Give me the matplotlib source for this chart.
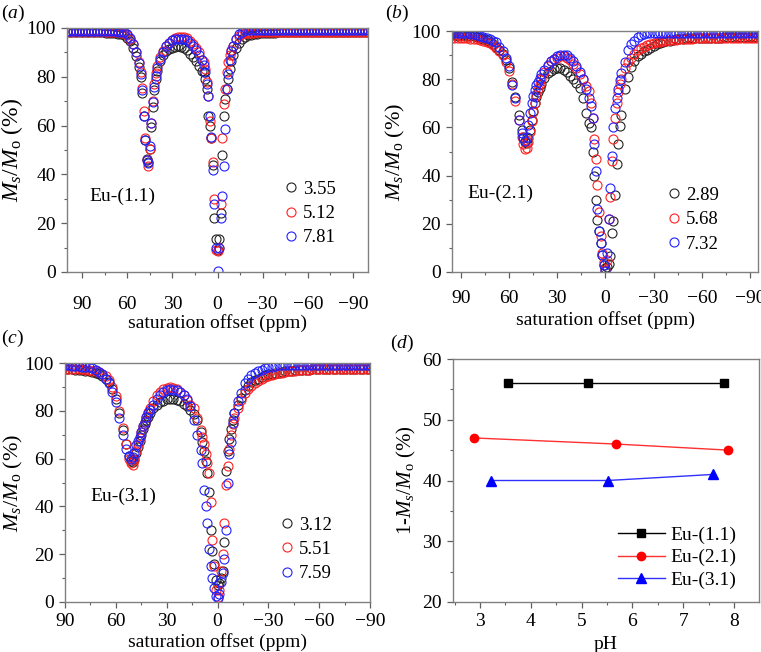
import matplotlib
matplotlib.use("Agg")
import matplotlib.pyplot as plt
from matplotlib.ticker import MultipleLocator

plt.rcParams['font.family'] = ['Liberation Serif', 'DejaVu Serif']
plt.rcParams['mathtext.fontset'] = 'custom'
plt.rcParams['mathtext.rm'] = 'Liberation Serif'
plt.rcParams['mathtext.it'] = 'Liberation Serif:italic'
plt.rcParams['font.size'] = 13.5

# ---------------- data ----------------
offset_ppm = [100, 98, 96, 94, 92, 90, 88, 86, 84, 82, 80, 78, 76, 74, 72, 70, 68, 66, 64,
              62, 60, 58, 56, 54, 52,
              51, 50, 49, 48, 47, 46, 45, 44, 43, 42, 41, 40,
              38, 36, 34, 32, 30, 28, 26, 24, 22, 20, 18, 16, 14, 12, 10,
              9, 8, 7, 6, 5, 4, 3, 2, 1, 0, -1, -2, -3, -4, -5, -6, -7, -8, -9, -10,
              -12, -14, -16, -18, -20,
              -22, -24, -26, -28, -30, -32, -34, -36, -38, -40,
              -42, -44, -46, -48, -50, -52, -54, -56, -58, -60,
              -62, -64, -66, -68, -70, -72, -74, -76, -78, -80,
              -82, -84, -86, -88, -90, -92, -94, -96, -98, -100]

# panel (a) Eu-(1.1)
a_labels = ['3.55', '5.12', '7.81']
a_black = [98.3, 98.2, 98.4, 98.3, 98.2, 98.3, 98.4, 98.2, 98.3, 98.2,
           98.3, 98.2, 98.3, 98.1, 98.0, 97.9, 97.8, 97.7, 97.6,
           97.0, 96.0, 94.5, 92.0, 88.5, 84.0,
           80.0, 73.5, 64.0, 54.0, 46.5, 45.0, 50.5, 59.5, 67.5, 74.5, 79.0, 82.5,
           86.5, 89.0, 90.5, 91.5, 92.0, 92.3, 92.5, 92.4, 92.0, 91.0, 89.5, 88.0, 86.5, 84.5, 82.5,
           82.0, 79.0, 75.0, 64.0, 60.0, 55.0, 44.0, 22.0, 13.5, 9.0,
           13.5, 24.0, 48.0, 64.0, 71.0, 75.0, 79.0, 83.0, 86.5, 89.0,
           92.0, 94.0, 95.5, 96.5, 97.0,
           97.2, 97.5, 97.7, 97.8, 97.9, 98.0, 98.0, 98.1, 98.1, 98.2,
           98.2, 98.2, 98.3, 98.2, 98.3, 98.3, 98.3, 98.4, 98.3, 98.4,
           98.3, 98.4, 98.4, 98.3, 98.4, 98.4, 98.3, 98.4, 98.4, 98.4,
           98.3, 98.4, 98.4, 98.3, 98.4, 98.4, 98.3, 98.4, 98.4, 98.4]
a_red = [98.6, 98.5, 98.6, 98.5, 98.6, 98.5, 98.6, 98.5, 98.6, 98.5,
         98.6, 98.5, 98.6, 98.5, 98.4, 98.4, 98.3, 98.2, 98.1,
         97.8, 97.0, 95.5, 93.5, 90.0, 86.0,
         82.0, 75.5, 66.0, 55.0, 46.0, 43.5, 50.5, 61.0, 70.0, 77.0, 81.5, 84.5,
         88.0, 90.5, 92.5, 94.0, 95.0, 95.8, 96.2, 96.3, 96.2, 95.8, 94.8, 93.5, 92.0, 90.0, 87.0,
         86.0, 83.0, 78.0, 72.0, 62.0, 55.0, 45.0, 30.0, 9.0, 8.5,
         10.0, 28.0, 55.0, 69.0, 75.0, 82.0, 86.0, 89.0, 91.0, 92.5,
         95.5, 96.8, 97.5, 97.8, 98.0,
         98.0, 98.1, 98.2, 98.2, 98.2, 98.3, 98.3, 98.3, 98.4, 98.3,
         98.4, 98.3, 98.4, 98.4, 98.3, 98.4, 98.4, 98.3, 98.4, 98.4,
         98.3, 98.4, 98.4, 98.3, 98.4, 98.4, 98.3, 98.4, 98.4, 98.3,
         98.4, 98.4, 98.3, 98.4, 98.4, 98.3, 98.4, 98.4, 98.3, 98.4]
a_blue = [98.8, 98.9, 98.8, 98.9, 98.8, 98.9, 98.8, 98.9, 98.8, 98.9,
          98.8, 98.9, 98.8, 98.8, 98.7, 98.7, 98.6, 98.5, 98.4,
          98.2, 97.5, 96.0, 93.5, 90.0, 85.5,
          81.0, 74.5, 64.0, 54.0, 46.0, 44.8, 51.5, 61.0, 69.5, 76.0, 80.5, 83.5,
          87.5, 90.0, 92.5, 94.0, 95.0, 95.5, 95.5, 95.5, 95.3, 95.0, 94.0, 92.5, 91.0, 89.0, 87.0,
          85.0, 82.0, 77.0, 72.0, 64.0, 55.5, 42.0, 28.0, 10.0, 0.5,
          10.0, 22.0, 31.0, 43.5, 58.5, 75.0, 81.0, 87.0, 90.5, 92.5,
          95.5, 97.5, 98.5, 99.0, 99.0,
          99.0, 99.1, 99.0, 99.1, 99.0, 99.1, 99.0, 99.1, 99.0, 99.1,
          99.0, 99.1, 99.0, 99.1, 99.0, 99.1, 99.0, 99.1, 99.0, 99.1,
          99.0, 99.1, 99.0, 99.1, 99.0, 99.1, 99.0, 99.1, 99.0, 99.1,
          99.0, 99.1, 99.0, 99.1, 99.0, 99.1, 99.0, 99.1, 99.0, 99.1]

# panel (b) Eu-(2.1)
b_labels = ['2.89', '5.68', '7.32']
b_black = [98.0, 98.2, 98.3, 98.2, 98.1, 98.3, 98.2, 98.1, 98.0, 97.9,
           97.6, 97.3, 96.8, 96.2, 95.5, 94.6, 93.5, 92.0, 90.5,
           88.0, 84.5, 79.0, 72.5, 65.0, 59.0,
           56.0, 54.0, 53.5, 55.5, 59.0, 63.0, 67.0, 70.0, 72.5, 74.5, 76.5, 78.0,
           80.5, 82.5, 83.5, 84.3, 84.5, 84.5, 84.0, 83.0, 81.5, 80.0, 78.5, 76.5, 72.0, 66.0, 62.0,
           60.0, 50.0, 40.0, 30.0, 21.5, 17.0, 12.0, 7.0, 3.0, 1.5,
           2.0, 3.5, 6.5, 16.0, 21.0, 32.0, 45.0, 53.0, 60.5, 65.0,
           76.0, 81.0, 85.0, 87.5, 89.5,
           90.5, 91.5, 92.3, 93.0, 93.8, 94.5, 95.0, 95.5, 95.8, 96.0,
           96.3, 96.5, 96.6, 96.8, 96.9, 97.0, 97.0, 97.1, 97.1, 97.2,
           97.2, 97.2, 97.3, 97.3, 97.3, 97.3, 97.4, 97.4, 97.4, 97.4,
           97.4, 97.5, 97.4, 97.5, 97.4, 97.5, 97.5, 97.4, 97.5, 97.5]
b_red = [97.0, 97.1, 97.2, 97.0, 97.1, 97.0, 97.1, 96.9, 96.8, 96.7,
         96.5, 96.3, 96.0, 95.6, 95.0, 94.2, 93.0, 91.5, 90.0,
         87.0, 83.5, 78.0, 71.0, 63.0, 56.0,
         53.0, 51.0, 51.5, 54.0, 58.0, 62.5, 66.5, 70.0, 73.5, 76.0, 78.0, 80.0,
         83.0, 85.5, 87.5, 88.5, 89.0, 89.5, 89.5, 89.0, 88.0, 86.5, 84.5, 82.0, 80.0, 77.0, 75.0,
         70.0, 64.0, 55.0, 47.0, 36.0, 25.0, 15.0, 8.0, 4.0, 1.0,
         5.0, 22.0, 31.0, 46.0, 55.0, 64.0, 70.0, 74.5, 78.0, 80.0,
         84.5, 87.0, 89.0, 90.5, 92.0,
         92.8, 93.5, 94.0, 94.5, 95.0, 95.4, 95.6, 95.8, 96.0, 96.1,
         96.3, 96.4, 96.5, 96.6, 96.7, 96.8, 96.8, 96.9, 96.9, 97.0,
         97.0, 97.0, 97.1, 97.1, 97.1, 97.2, 97.2, 97.2, 97.2, 97.3,
         97.2, 97.3, 97.3, 97.2, 97.3, 97.3, 97.3, 97.2, 97.3, 97.3]
b_blue = [99.2, 99.0, 99.2, 99.0, 99.2, 99.0, 99.1, 99.0, 98.8, 98.6,
          98.3, 98.0, 97.5, 97.0, 96.5, 96.0, 95.3, 93.5, 91.5,
          89.0, 85.5, 77.5, 72.0, 63.0, 57.5,
          55.5, 54.5, 56.0, 61.0, 66.0, 70.0, 73.0, 75.5, 77.5, 79.0, 80.5, 82.0,
          84.0, 86.0, 87.5, 88.5, 89.5, 90.0, 90.2, 90.0, 89.0, 87.5, 85.5, 83.0, 80.0, 76.0, 72.0,
          69.0, 64.0, 53.0, 42.0, 26.0, 17.0, 12.0, 7.0, 3.0, 0.5,
          8.0, 22.0, 35.0, 48.0, 60.0, 68.0, 72.0, 76.0, 79.5, 82.5,
          87.0, 92.0, 94.5, 96.0, 97.5,
          98.3, 98.8, 99.0, 99.1, 99.2, 99.0, 99.2, 99.0, 99.2, 99.0,
          99.2, 99.0, 99.2, 99.0, 99.2, 99.0, 99.2, 99.0, 99.2, 99.0,
          99.2, 99.0, 99.2, 99.0, 99.2, 99.0, 99.2, 99.0, 99.2, 99.0,
          99.2, 99.0, 99.2, 99.0, 99.2, 99.0, 99.2, 99.0, 99.2, 99.0]

# panel (c) Eu-(3.1)
c_labels = ['3.12', '5.51', '7.59']
c_black = [97.3, 97.4, 97.5, 97.4, 97.3, 97.4, 97.4, 97.3, 97.2, 97.1,
           97.0, 96.8, 96.5, 96.3, 96.0, 95.4, 94.5, 93.3, 92.0,
           89.0, 85.0, 79.0, 72.0, 66.0, 61.0,
           59.0, 58.5, 60.0, 62.5, 65.0, 67.5, 70.0, 72.5, 74.5, 76.0, 77.5, 79.0,
           81.0, 82.5, 83.5, 84.3, 84.8, 85.0, 85.0, 84.5, 84.0, 83.0, 82.0, 80.5, 78.5, 76.0, 71.0,
           67.0, 63.0, 59.0, 54.0, 46.0, 30.0, 21.5, 16.0, 9.0, 7.0,
           8.0, 10.0, 13.0, 25.0, 55.0, 63.0, 68.0, 72.5, 76.0, 79.0,
           82.5, 85.5, 88.5, 90.5, 92.0,
           92.8, 93.5, 94.2, 94.8, 95.2, 95.5, 95.8, 96.0, 96.3, 96.5,
           96.7, 96.8, 96.9, 97.0, 97.1, 97.2, 97.2, 97.3, 97.3, 97.4,
           97.4, 97.5, 97.5, 97.5, 97.4, 97.5, 97.5, 97.5, 97.4, 97.5,
           97.5, 97.5, 97.4, 97.5, 97.5, 97.5, 97.4, 97.5, 97.5, 97.5]
c_red = [97.5, 97.6, 97.5, 97.6, 97.5, 97.6, 97.5, 97.5, 97.5, 97.4,
         97.3, 97.2, 97.0, 96.8, 96.5, 96.1, 95.5, 94.5, 93.0,
         90.0, 86.0, 80.0, 73.0, 66.0, 60.0,
         58.0, 57.5, 59.5, 63.0, 66.0, 68.5, 71.0, 73.5, 75.5, 77.5, 79.5, 81.0,
         84.0, 86.5, 88.0, 89.0, 89.5, 89.8, 89.5, 89.0, 88.0, 86.5, 84.5, 82.5, 81.0, 77.0, 72.0,
         69.0, 66.0, 62.0, 58.0, 54.0, 42.0, 26.0, 15.0, 5.0, 2.0,
         5.0, 13.0, 20.0, 33.0, 49.0, 57.0, 64.0, 70.0, 74.5, 77.0,
         81.0, 84.5, 87.5, 89.0, 90.5,
         91.5, 92.5, 93.3, 94.0, 94.5, 95.0, 95.5, 95.8, 96.0, 96.3,
         96.5, 96.7, 96.8, 96.9, 97.0, 97.1, 97.2, 97.3, 97.4, 97.4,
         97.5, 97.5, 97.6, 97.5, 97.6, 97.5, 97.6, 97.5, 97.6, 97.5,
         97.6, 97.5, 97.6, 97.5, 97.6, 97.5, 97.6, 97.5, 97.6, 97.5]
c_blue = [99.0, 99.1, 99.0, 99.2, 99.0, 99.1, 99.0, 98.9, 98.8, 98.7,
          98.5, 98.4, 98.2, 97.7, 97.0, 96.2, 95.2, 93.5, 91.5,
          88.0, 83.5, 77.0, 70.0, 64.0, 61.0,
          60.0, 60.5, 62.5, 65.5, 67.5, 69.0, 71.0, 73.5, 75.5, 77.5, 79.0, 80.5,
          82.5, 85.0, 86.5, 87.8, 88.5, 89.0, 88.8, 88.5, 88.0, 86.5, 85.0, 82.0, 76.0, 70.0, 63.5,
          58.0, 47.0, 40.0, 33.0, 22.0, 15.0, 10.0, 6.0, 2.5, 1.8,
          3.5, 8.5, 12.0, 18.0, 30.0, 50.0, 62.0, 67.0, 75.0, 79.0,
          84.0, 87.5, 91.5, 93.5, 95.0,
          95.8, 96.5, 97.2, 97.8, 98.2, 98.5, 98.8, 99.0, 99.1, 99.0,
          99.2, 99.0, 99.2, 99.0, 99.2, 99.0, 99.2, 99.0, 99.2, 99.0,
          99.2, 99.0, 99.2, 99.0, 99.2, 99.0, 99.2, 99.0, 99.2, 99.0,
          99.2, 99.0, 99.2, 99.0, 99.2, 99.0, 99.2, 99.0, 99.2, 99.0]

# panel (d)
d_names = ['Eu-(1.1)', 'Eu-(2.1)', 'Eu-(3.1)']
d_ph_1 = [3.55, 5.12, 7.81]
d_val_1 = [56, 56, 56]
d_ph_2 = [2.89, 5.68, 7.88]
d_val_2 = [47, 46, 45]
d_ph_3 = [3.22, 5.51, 7.59]
d_val_3 = [40, 40, 41]

# ---------------- figure ----------------
W, H = 761, 652
fig = plt.figure(figsize=(W / 100, H / 100), dpi=100)

def px_axes(l, r, t, b):
    return fig.add_axes([l / W, 1 - b / H, (r - l) / W, (b - t) / H])

SPINE = '#808080'
series_colors = ['#222222', '#ff2020', '#2020ff']

def style(ax, xpad=4):
    for s in ax.spines.values():
        s.set_color(SPINE)
        s.set_linewidth(1.0)
    ax.tick_params(which='both', direction='out', color='#606060', top=False, right=False)
    ax.tick_params(which='major', length=4, width=0.9, pad=4, labelsize=14)
    ax.tick_params(which='minor', length=2.5, width=0.8)
    ax.tick_params(axis='x', which='major', pad=xpad)

def zpanel(ax, xlim, ys, labels, name, name_xy, leg_xy, xpad, xlabelpad, ylsize, ylpad):
    handles = []
    for y, c, lab in zip(ys, series_colors, labels):
        h, = ax.plot(offset_ppm, y, 'o', mfc='none', mec=c, ms=6.5, mew=0.8, label=lab)
        handles.append(h)
    ax.set_xlim(*xlim)
    ax.set_ylim(0, 100)
    ax.xaxis.set_major_locator(MultipleLocator(30))
    ax.xaxis.set_minor_locator(MultipleLocator(15))
    ax.yaxis.set_major_locator(MultipleLocator(20))
    ax.yaxis.set_minor_locator(MultipleLocator(10))
    ax.set_xlabel('saturation offset (ppm)', labelpad=xlabelpad, fontsize=14)
    ax.set_ylabel(r'$M_s/M_{\rm o}$ (%)', labelpad=ylpad, fontsize=ylsize)
    ax.text(name_xy[0], name_xy[1], name, transform=ax.transAxes, ha='left', va='center',
            fontsize=14)
    ax.legend(handles=handles, loc='upper left', bbox_to_anchor=leg_xy, frameon=False,
              borderpad=0, borderaxespad=0, handlelength=0.6, handletextpad=0.35,
              labelspacing=0.38, numpoints=1, fontsize=13.5)
    style(ax, xpad)

ax_a = px_axes(67, 368, 28, 272)
zpanel(ax_a, (100, -100), [a_black, a_red, a_blue], a_labels, 'Eu-(1.1)', (0.076, 0.31),
       (0.724, 0.374), xpad=13, xlabelpad=1, ylsize=17, ylpad=1)

ax_b = px_axes(452, 758, 31, 272)
zpanel(ax_b, (95.5, -95), [b_black, b_red, b_blue], b_labels, 'Eu-(2.1)', (0.049, 0.328),
       (0.706, 0.353), xpad=9, xlabelpad=3, ylsize=16, ylpad=3)

ax_c = px_axes(65, 370, 363, 602)
zpanel(ax_c, (90, -90), [c_black, c_red, c_blue], c_labels, 'Eu-(3.1)', (0.082, 0.44),
       (0.708, 0.358), xpad=4, xlabelpad=2, ylsize=16, ylpad=0)

ax_d = px_axes(453, 759, 359, 602)
ax_d.plot(d_ph_1, d_val_1, '-s', color='black', lw=1.0, ms=6, label=d_names[0])
ax_d.plot(d_ph_2, d_val_2, '-o', color='#ff3030', mfc='red', mec='red', lw=1.0, ms=6, label=d_names[1])
ax_d.plot(d_ph_3, d_val_3, '-^', color='#3030ff', mfc='blue', mec='blue', lw=1.0, ms=7, label=d_names[2])
ax_d.set_xlim(2.47, 8.49)
ax_d.set_ylim(20, 60)
ax_d.xaxis.set_major_locator(MultipleLocator(1))
ax_d.xaxis.set_minor_locator(MultipleLocator(0.5))
ax_d.yaxis.set_major_locator(MultipleLocator(10))
ax_d.yaxis.set_minor_locator(MultipleLocator(5))
ax_d.set_xlabel('pH', labelpad=4, fontsize=14)
ax_d.set_ylabel(r'1-$M_s/M_{\rm o}$ (%)', labelpad=3, fontsize=15)
ax_d.legend(loc='lower left', bbox_to_anchor=(0.539, 0.052), frameon=False, borderpad=0,
            borderaxespad=0, handlelength=2.4, handletextpad=0.3, labelspacing=0.27,
            fontsize=14)
style(ax_d)

for lab, x, y in [('a', 1, 13), ('b', 385, 13), ('c', 1, 338), ('d', 390, 343)]:
    fig.text(x / W, 1 - y / H, '($%s$)' % lab, ha='left', va='center', fontsize=14)

fig.savefig('out.png', dpi=100)
